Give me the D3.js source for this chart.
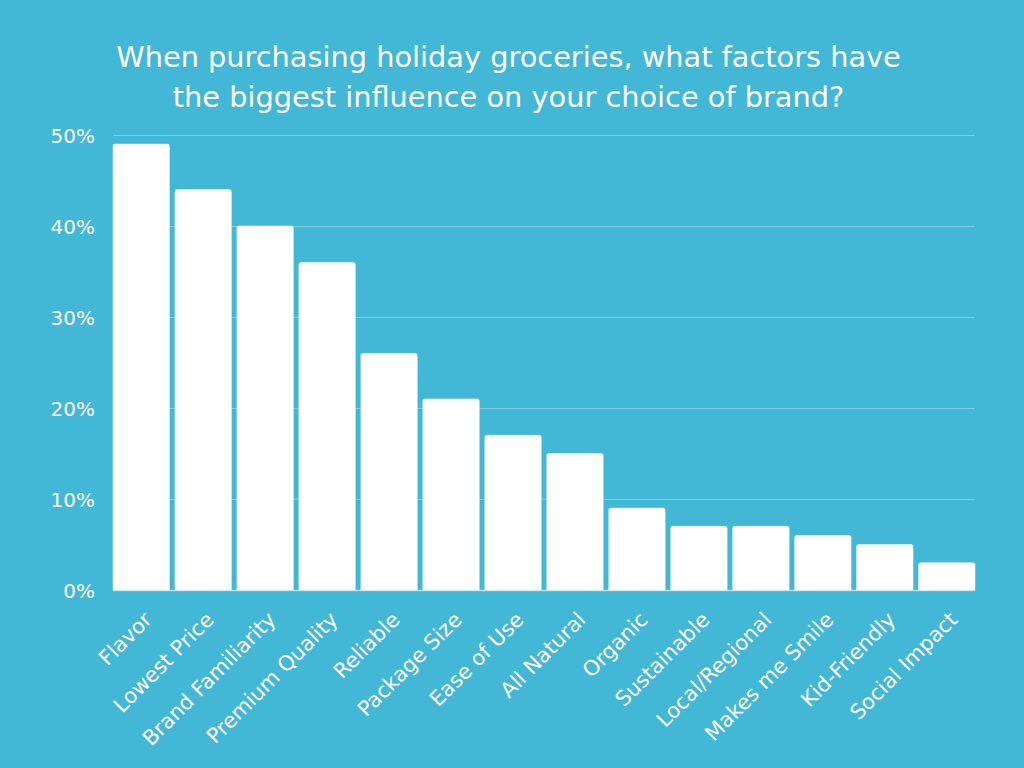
<!DOCTYPE html>
<html>
<head>
<meta charset="utf-8">
<script src="https://cdn.jsdelivr.net/npm/d3@7"></script>
<style>
html,body{margin:0;padding:0;background:#42b7d6;}
svg{display:block;}
</style>
</head>
<body>
<script>
const titleLines = ["When purchasing holiday groceries, what factors have", "the biggest influence on your choice of brand?"];
const categories = ["Flavor","Lowest Price","Brand Familiarity","Premium Quality","Reliable","Package Size","Ease of Use","All Natural","Organic","Sustainable","Local/Regional","Makes me Smile","Kid-Friendly","Social Impact"];
const values = [49,44,40,36,26,21,17,15,9,7,7,6,5,3];
const yTicks = [0,10,20,30,40,50];

const W = 1024, H = 768;
const margin = {left:113, right:49, top:135, bottom:178};
const svg = d3.select("body").append("svg").attr("width",W).attr("height",H);
svg.append("rect").attr("width",W).attr("height",H).attr("fill","#42b7d6");

const font = "'DejaVu Sans', sans-serif";
svg.append("text").attr("x",508).attr("y",0).attr("fill","#fff")
  .attr("font-family",font).attr("font-size",28.8).attr("font-weight",400)
  .attr("text-anchor","middle")
  .selectAll("tspan").data(titleLines).join("tspan")
  .attr("x",508.5).attr("y",(d,i)=>67+i*40).text(d=>d);

const x = d3.scaleBand().domain(categories).range([margin.left, W-margin.right]).paddingInner(0.09).paddingOuter(0);
const y = d3.scaleLinear().domain([0,50]).range([H-margin.bottom, margin.top]);

// grid
const yAxis = d3.axisLeft(y).tickValues(yTicks).tickFormat(d=>d+"%").tickSize(-(W-margin.left-margin.right)).tickPadding(18);
const gy = svg.append("g").attr("transform",`translate(${margin.left},0)`).call(yAxis);
gy.select(".domain").remove();
gy.selectAll(".tick line").attr("stroke","rgba(255,255,255,0.3)").attr("stroke-width",1);
gy.selectAll(".tick text").attr("fill","#fff").attr("font-family",font).attr("font-size",20).attr("dy","0.35em");

// bars
svg.append("g").selectAll("path").data(values).join("path")
  .attr("fill","#fff").attr("stroke","rgba(255,255,255,0.5)").attr("stroke-width",1)
  .attr("d",(d,i)=>{
    const x0 = x(categories[i]), w = x.bandwidth(), y0 = y(d), y1 = y(0), r = 2;
    return `M${x0},${y1}V${y0+r}Q${x0},${y0} ${x0+r},${y0}H${x0+w-r}Q${x0+w},${y0} ${x0+w},${y0+r}V${y1}Z`;
  });

// baseline
svg.append("line").attr("x1",margin.left).attr("x2",W-margin.right).attr("y1",y(0)+0.5).attr("y2",y(0)+0.5)
  .attr("stroke","rgba(255,255,255,0.45)").attr("stroke-width",1.5);

// x labels
const xAxis = d3.axisBottom(x).tickSize(0).tickPadding(0);
const gx = svg.append("g").attr("transform",`translate(0,${y(0)})`).call(xAxis);
gx.select(".domain").remove();
gx.selectAll(".tick text").attr("fill","#fff").attr("font-family",font).attr("font-size",21)
  .attr("text-anchor","end").attr("dy",0)
  .attr("transform","translate(12,31) rotate(-45)");
</script>
</body>
</html>
